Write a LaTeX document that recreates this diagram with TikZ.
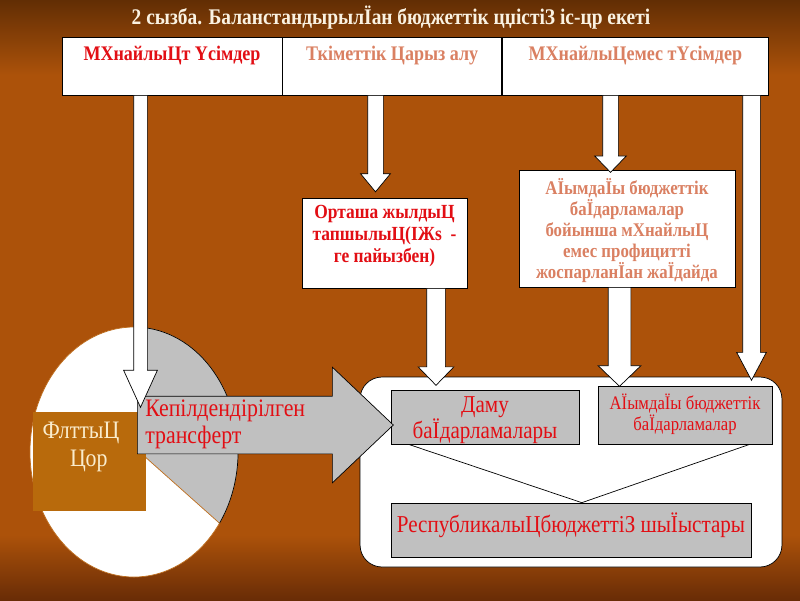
\documentclass[tikz,border=0pt]{standalone}
\usepackage{fontspec}
\setmainfont{Liberation Serif}
\usepackage{tikz}
\usetikzlibrary{shapes.arrows, positioning, calc}
\definecolor{bgTop}{RGB}{98,46,4}
\definecolor{bgMid}{RGB}{172,82,10}
\definecolor{bgBottom}{RGB}{105,44,6}
\definecolor{textRed}{RGB}{226,14,20}
\definecolor{textSalmon}{RGB}{218,128,98}
\definecolor{titleCream}{RGB}{250,242,226}
\definecolor{boxGray}{RGB}{192,192,192}
\definecolor{fundBrown}{RGB}{184,106,12}
\definecolor{fundCream}{RGB}{250,236,204}
\definecolor{pieEdge}{RGB}{190,110,30}
\tikzstyle{squeeze} = [xscale=0.87]
\tikzstyle{headBox} = [rectangle, draw=black, fill=white, minimum height=1.16cm, inner sep=0pt]
\tikzstyle{headText} = [squeeze, font=\bfseries\fontsize{11.8}{13}\selectfont, inner sep=0pt]
\tikzstyle{noteBox} = [rectangle, draw=black, fill=white, inner sep=0pt]
\tikzstyle{noteText} = [squeeze, font=\bfseries\fontsize{11.4}{12.5}\selectfont, align=center, inner sep=0pt]
\tikzstyle{grayBox} = [rectangle, draw=black, fill=boxGray, inner sep=0pt]
\tikzstyle{whiteArrow} = [single arrow, draw=black, fill=white, shape border rotate=270, anchor=tail]
\tikzstyle{grayArrow} = [single arrow, draw=black, fill=boxGray, anchor=tail]
\tikzstyle{link} = [thin, -]

\begin{document}
\begin{tikzpicture}[x=0.02cm, y=-0.02cm, node distance = 0.2cm]
                            \useasboundingbox (0,0) rectangle (800,600);
                            \fill [bgMid] (0,0) rectangle (800,600);
                            \shade [top color=bgTop, bottom color=bgMid] (0,0) rectangle (800,75);
                            \shade [top color=bgMid, bottom color=bgBottom] (0,535) rectangle (800,600);
                            \node (title) [squeeze, font=\bfseries\fontsize{12.7}{14}\selectfont, text=titleCream] at (391,18) {2 сызба. БаланстандырылЇан бюджеттік цџістіЗ іс-цр екеті};
                            \node (box_oil) [headBox, minimum width=4.4cm] at (172,66) {};
                            \node (box_loan) [headBox, minimum width=4.38cm, right = 0cm of box_oil] {};
                            \node (box_nonoil) [headBox, minimum width=5.32cm, right = 0cm of box_loan] {};
                            \node (t_oil) [headText, text=textRed, below = 0.19cm of box_oil.north] {МХнайлыЦт Үсімдер};
                            \node (t_loan) [headText, text=textSalmon, below = 0.19cm of box_loan.north] {Ткіметтік Царыз алу};
                            \node (t_nonoil) [headText, text=textSalmon, below = 0.19cm of box_nonoil.north] {МХнайлыЦемес тҮсімдер};
                            \node (note_avg) [noteBox, minimum width=3.3cm, minimum height=1.8cm] at (384.5,243) {};
                            \node (t_avg) [noteText, text=textRed, below = 0.14cm of note_avg.north] {Орташа жылдыЦ\\тапшылыЦ(ІЖs~~-\\ге пайызбен)};
                            \node (note_prog) [noteBox, minimum width=4.32cm, minimum height=2.34cm] at (627,228.5) {};
                            \node (t_prog) [noteText, font=\bfseries\fontsize{11}{11.9}\selectfont, text=textSalmon, below = 0.17cm of note_prog.north] {АЇымдаЇы бюджеттік\\баЇдарламалар\\бойынша мХнайлыЦ\\емес профицитті\\жоспарланЇан жаЇдайда};
                            \fill [white, draw=pieEdge, thin] (134,452) ellipse [x radius=104, y radius=125];
                            \fill [boxGray] (143,455) -- (143.1,327.5) arc [start angle=-85, end angle=34.7, x radius=104, y radius=125] -- cycle;
                            \draw [link] (143.1,327.5) arc [start angle=-85, end angle=34.7, x radius=104, y radius=125];
                            \draw [pieEdge, thin] (219.5,523.2) -- (143,455);
                            \node (fund) [rectangle, fill=fundBrown, minimum width=2.26cm, minimum height=1.98cm] at (89.5,461.5) {};
                            \node (t_fund) [squeeze, font=\fontsize{14.3}{15.5}\selectfont, text=fundCream, align=center] at (81,447) {ФлттыЦ\\\hspace*{0.36cm}Цор};
                            \node (budget) [rectangle, rounded corners=0.44cm, draw=black, fill=white, minimum width=8.44cm, minimum height=3.8cm] at (571,472) {};
                            \node (dev) [grayBox, minimum width=3.76cm, minimum height=1.08cm] at (485,417) {};
                            \node (t_dev) [squeeze, font=\fontsize{13.8}{13.6}\selectfont, text=textRed, align=center, inner sep=0pt] at (485,420) {Даму\\баЇдарламалары};
                            \node (prog) [grayBox, minimum width=3.48cm, minimum height=1.16cm] at (685,415) {};
                            \node (t_progs) [squeeze, font=\fontsize{10.9}{10.5}\selectfont, text=textRed, align=center, inner sep=0pt, below = 0.15cm of prog.north] {АЇымдаЇы бюджеттік\\баЇдарламалар};
                            \node (resp) [grayBox, minimum width=7.2cm, minimum height=1.08cm] at (571,530) {};
                            \node (t_resp) [squeeze, font=\fontsize{13.8}{14}\selectfont, text=textRed, inner sep=0pt, below = 0.2cm of resp.north] {РеспубликалыЦбюджеттіЗ шыЇыстары};
                            \draw [link] ($(dev.south west)!0.095!(dev.south east)$) -- ($(resp.north west)!0.53!(resp.north east)$);
                            \draw [link] ($(prog.south west)!0.87!(prog.south east)$) -- ($(resp.north west)!0.53!(resp.north east)$);
                            \node (transfer) [grayArrow, inner sep=0.57cm, minimum height=5.12cm, single arrow head extend=0.58cm, single arrow tip angle=87] at (137,425) {};
                            \node (t_transfer) [squeeze, font=\fontsize{14.3}{15.3}\selectfont, text=textRed, align=left, anchor=west, inner sep=0pt] at (145,424) {Кепілдендірілген\\трансферт};
                            \node (a_oil) [whiteArrow, inner sep=0.13cm, minimum height=6.24cm, single arrow head extend=0.2cm, single arrow tip angle=49] at (140.5,95) {};
                            \node (a_loan) [whiteArrow, inner sep=0.15cm, minimum height=1.93cm, single arrow head extend=0.14cm, single arrow tip angle=79] at (375.5,95) {};
                            \node (a_nonoil) [whiteArrow, inner sep=0.15cm, minimum height=1.54cm, single arrow head extend=0.16cm, single arrow tip angle=88] at (610.5,95) {};
                            \node (a_right) [whiteArrow, inner sep=0.17cm, minimum height=5.7cm, single arrow head extend=0.12cm, single arrow tip angle=56] at (751.5,95) {};
                            \node (a_avg) [whiteArrow, inner sep=0.18cm, minimum height=1.94cm, single arrow head extend=0.17cm, single arrow tip angle=88] at (436,288) {};
                            \node (a_prog) [whiteArrow, inner sep=0.22cm, minimum height=1.98cm, single arrow head extend=0.2cm, single arrow tip angle=92] at (619.5,287) {};
                        \end{tikzpicture}
\end{document}
